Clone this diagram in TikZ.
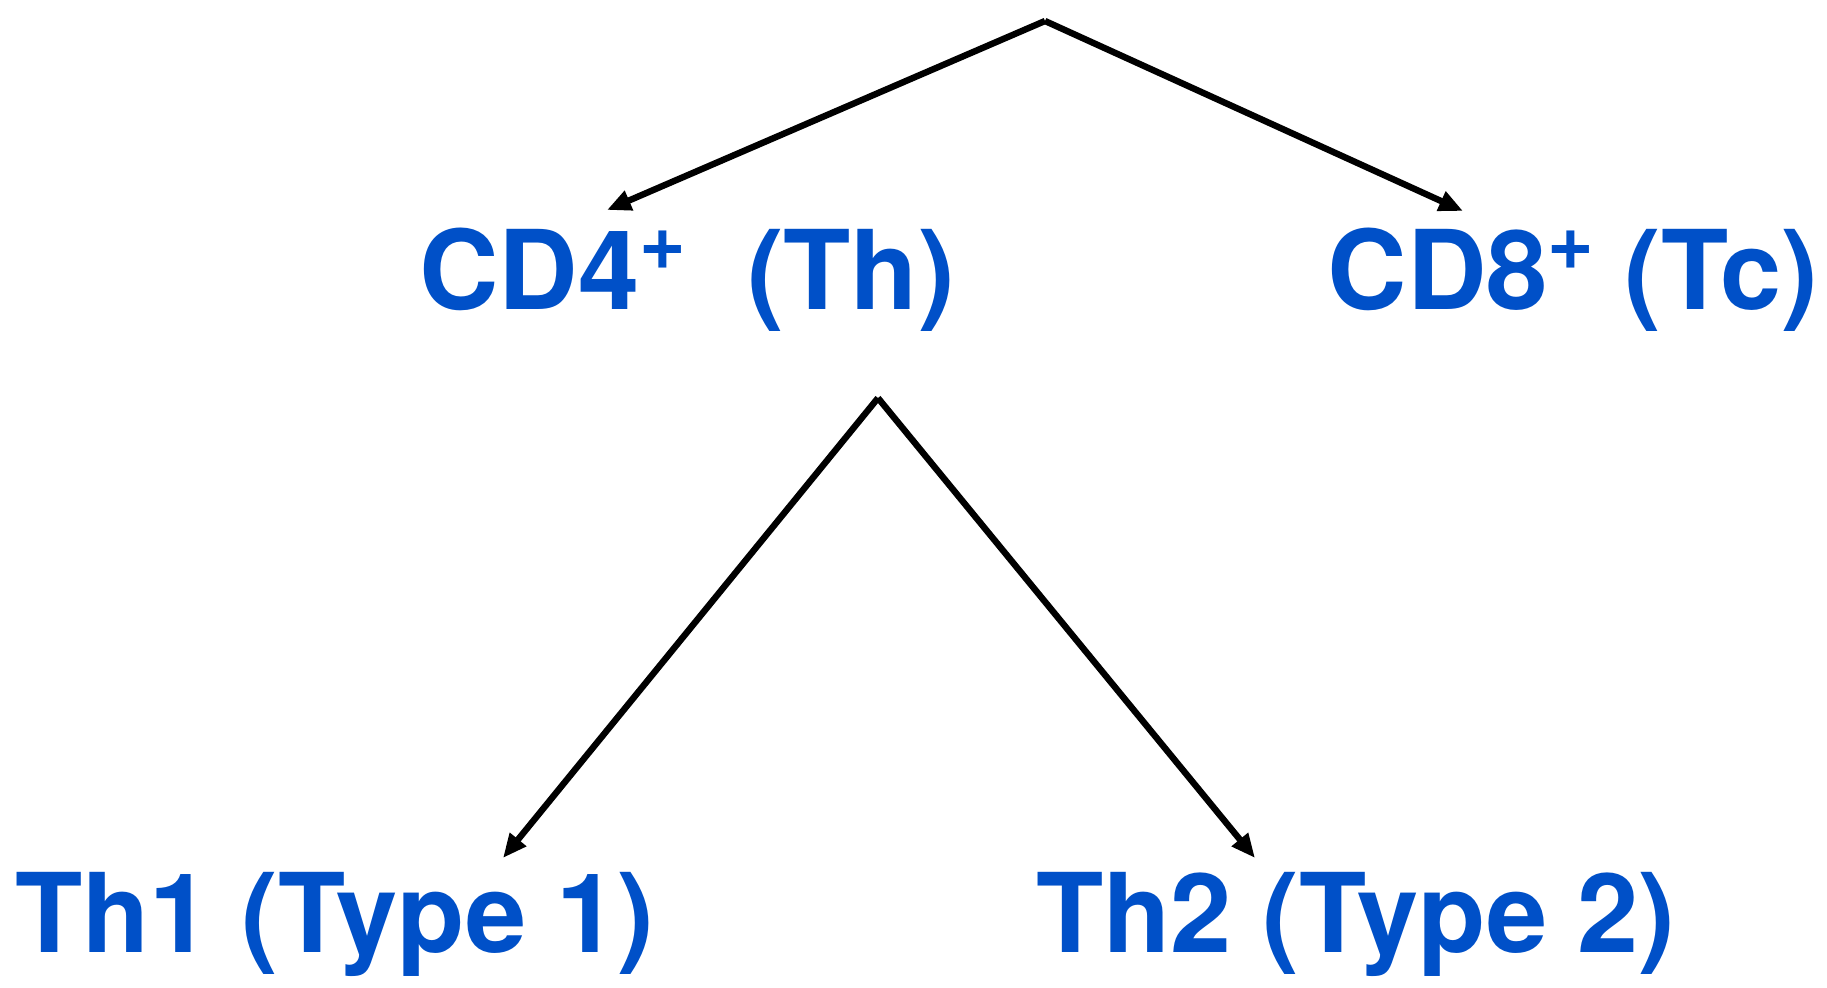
\documentclass[tikz,border=0pt]{standalone}
\usepackage{fontspec}
\setmainfont{TeX Gyre Heros}
\usetikzlibrary{arrows.meta}
\definecolor{cellblue}{HTML}{0050C8}
\newcommand{\supplus}{\raisebox{20pt}{\fontsize{40}{40}\selectfont +}}
\begin{document}
\begin{tikzpicture}[x=0.5pt,y=-0.5pt,
  label/.style={text=cellblue,font=\fontsize{55}{60}\selectfont\bfseries,inner sep=0pt,anchor=base},
  arr/.style={draw=black,line width=3.2pt,-{Triangle[length=12pt,width=10pt]}}]
\useasboundingbox (0,0) rectangle (1827,988);
\fill[white] (0,0) rectangle (1827,988);
% nodes
\node[label] (cd4) at (687,310) {CD4\supplus\ \ (Th)};
\node[label] (cd8) at (1573,310) {CD8\supplus\ (Tc)};
\node[label] (th1) at (335,952) {Th1 (Type 1)};
\node[label] (th2) at (1356,952) {Th2 (Type 2)};
% connector points
\coordinate (top) at (1045,21);
\coordinate (cd4tip) at (607,210);
\coordinate (cd8tip) at (1463,211);
\coordinate (split) at (878,398);
\coordinate (th1tip) at (503,858);
\coordinate (th2tip) at (1255,858);
% connectors
\draw[arr] (top) -- (cd4tip);
\draw[arr] (top) -- (cd8tip);
\draw[arr] (split) -- (th1tip);
\draw[arr] (split) -- (th2tip);
\end{tikzpicture}
\end{document}
